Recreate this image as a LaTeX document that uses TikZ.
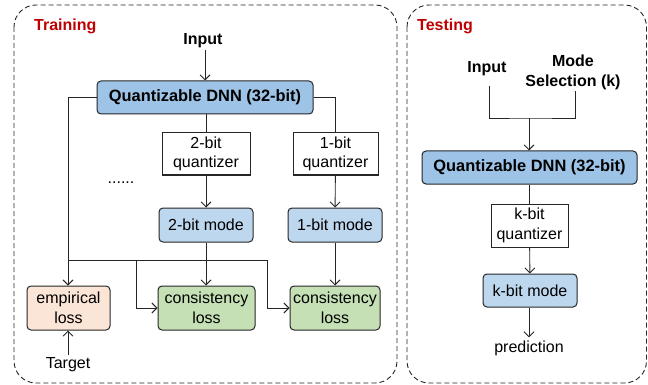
\documentclass[tikz,border=0pt]{standalone}
\usepackage{fontspec}
\setmainfont{Liberation Sans}
\usetikzlibrary{arrows.meta}
\definecolor{dnnblue}{HTML}{9DC3E6}
\definecolor{modeblue}{HTML}{BDD7EE}
\definecolor{peach}{HTML}{FBE5D6}
\definecolor{lgreen}{HTML}{C5E0B4}
\definecolor{redlab}{HTML}{C00000}
\tikzset{
  base/.style={draw=black!85, line width=1pt, align=center, inner sep=0pt,
    font=\fontsize{16}{19.5}\selectfont},
  rbox/.style={base, rounded corners=4pt},
  dnnbox/.style={rbox, fill=dnnblue, font=\fontsize{16.4}{19.5}\selectfont\bfseries},
  modebox/.style={rbox, fill=modeblue},
  qbox/.style={base, fill=white},
  emp/.style={rbox, fill=peach},
  cons/.style={rbox, fill=lgreen},
  frame/.style={draw=black!85, line width=0.9pt, dash pattern=on 5pt off 3pt, rounded corners=22pt},
  lbl/.style={font=\fontsize{16}{19.5}\selectfont, inner sep=0pt, align=center},
  blbl/.style={lbl, font=\fontsize{16}{20}\selectfont\bfseries},
  title/.style={font=\fontsize{16}{19}\selectfont\bfseries, text=redlab, inner sep=0pt},
  conn/.style={draw=black!85, line width=0.9pt},
  arr/.style={conn, -{Straight Barb[length=5pt,width=10pt,line width=0.9pt]}},
}
\begin{document}
\begin{tikzpicture}[x=1pt,y=-1pt]
\useasboundingbox (0,0) rectangle (648,385);
% frames
\draw[frame] (14,5) rectangle (397,383);
\draw[frame] (407,5) rectangle (646.5,383);
\node[title, anchor=west] (ttrain) at (34,26.5) {Training};
\node[title, anchor=west] (ttest) at (417,26.5) {Testing};

% training
\node[blbl] (inp) at (203,41) {Input};
\node[dnnbox, minimum width=216pt, minimum height=33pt] (dnn) at (205,97.5) {Quantizable DNN (32-bit)};
\node[qbox, minimum width=88pt, minimum height=42pt] (q2) at (206,154) {2-bit\\quantizer};
\node[qbox, minimum width=85pt, minimum height=42pt] (q1) at (335.5,154) {1-bit\\quantizer};
\node[lbl] (dots) at (121,183) {......};
\node[modebox, minimum width=94pt, minimum height=34pt] (m2) at (206,225) {2-bit mode};
\node[modebox, minimum width=94pt, minimum height=34pt] (m1) at (335,225) {1-bit mode};
\node[emp, minimum width=83pt, minimum height=44pt] (el) at (68.5,308) {empirical\\loss};
\node[cons, minimum width=97pt, minimum height=44pt] (c1) at (206.5,308) {consistency\\loss};
\node[cons, minimum width=90pt, minimum height=44pt] (c2) at (335,308) {consistency\\loss};
\node[lbl] (tgt) at (68,365) {Target};
\coordinate (j0) at (68,260);
\coordinate (j1) at (136,260);
\coordinate (j2) at (267,260);

\draw[arr] (inp.south -| dnn) ++(0,1.5) -- (dnn.north);
\draw[conn] (dnn.west) -| (j0);
\draw[arr] (j0) -- (el.north -| j0);
\draw[conn] (dnn.east) -| (q1.north);
\draw[conn] (dnn.south -| q2) -- (q2.north);
\draw[arr] (q2) -- (m2);
\draw[arr] (q1) -- (m1);
\draw[arr] (m2) -- (c1.north -| m2);
\draw[arr] (m1) -- (c2.north -| m1);
\draw[conn] (j0) -- (j2);
\draw[arr] (j1) |- (c1.west);
\draw[arr] (j2) |- (c2.west);
\draw[arr] (tgt.north) ++(0,-3) -- (el.south -| tgt);

% testing
\node[blbl] (tin) at (487,69) {Input};
\node[blbl] (ms) at (573,72.5) {Mode\\Selection (k)};
\coordinate (mg) at (529,118);
\node[dnnbox, minimum width=215pt, minimum height=33pt] (tdnn) at (529.5,167.5) {Quantizable DNN (32-bit)};
\node[qbox, minimum width=77pt, minimum height=43pt] (tq) at (529.5,225.5) {k-bit\\quantizer};
\node[modebox, minimum width=94pt, minimum height=33pt] (tm) at (530,290.5) {k-bit mode};
\node[lbl] (pred) at (529,348) {prediction};

\draw[conn] ([xshift=2pt,yshift=-10pt]tin.south) |- (mg) -| ([xshift=2pt,yshift=-1pt]ms.south);
\draw[arr] (mg) -- (tdnn.north -| mg);
\draw[conn] (tdnn.south -| tq) -- (tq.north);
\draw[arr] (tq) -- (tm);
\draw[arr] (tm.south -| pred) -- ([yshift=3pt]pred.north);
\end{tikzpicture}
\end{document}
